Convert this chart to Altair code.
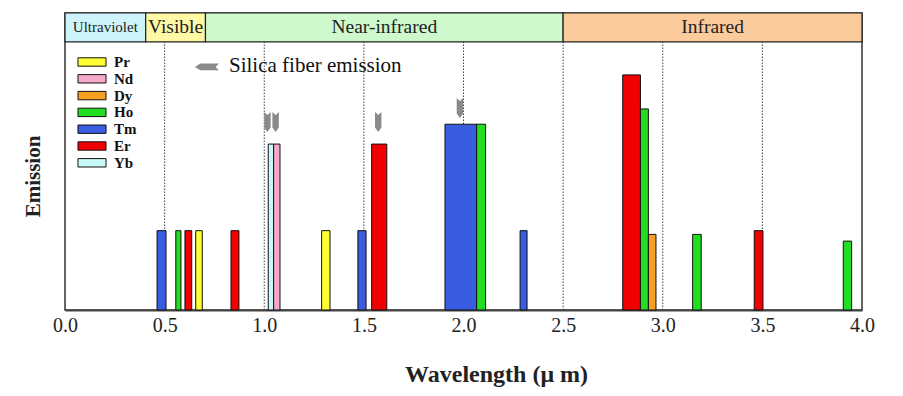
import altair as alt
import pandas as pd

# ---------------- data ----------------
elements = ["Pr", "Nd", "Dy", "Ho", "Tm", "Er", "Yb"]
element_colors = ["#ffff33", "#f5a8c8", "#f5a020", "#22dd22", "#3a5ce0", "#f00000", "#c8f8f8"]

bar_element = ["Tm", "Ho", "Er", "Pr", "Er", "Yb", "Nd", "Pr", "Tm", "Er",
               "Tm", "Ho", "Tm", "Er", "Ho", "Dy", "Ho", "Er", "Ho"]
bar_start = [0.462, 0.556, 0.602, 0.656, 0.833, 1.020, 1.047, 1.288, 1.470, 1.539,
             1.907, 2.066, 2.284, 2.799, 2.888, 2.928, 3.150, 3.459, 3.906]
bar_end = [0.507, 0.582, 0.636, 0.689, 0.873, 1.047, 1.079, 1.330, 1.511, 1.615,
           2.066, 2.111, 2.319, 2.888, 2.928, 2.966, 3.193, 3.503, 3.948]
bar_emission = [0.296, 0.296, 0.296, 0.296, 0.296, 0.619, 0.619, 0.296, 0.296, 0.619,
                0.693, 0.693, 0.296, 0.877, 0.750, 0.282, 0.282, 0.296, 0.257]

region_names = ["Ultraviolet", "Visible", "Near-infrared", "Infrared"]
region_start = [0.0, 0.405, 0.705, 2.5]
region_end = [0.405, 0.705, 2.5, 4.0]
region_colors = ["#cdf4fa", "#fff9a6", "#cdf9cd", "#fccb9c"]

silica_wavelength = [1.016, 1.057, 1.572, 1.982]
silica_tip = [0.664, 0.664, 0.664, 0.716]

grid_wavelength = [0.5, 1.0, 1.5, 2.0, 2.5, 3.0, 3.5]
tick_values = [0.0, 0.5, 1.0, 1.5, 2.0, 2.5, 3.0, 3.5, 4.0]

note_text = ["Silica fiber emission"]
note_arrow_x = [0.652]
note_arrow_y = [0.907]
note_text_x = [0.823]
note_text_y = [0.910]

BAND_LO = 1.0
BAND_HI = 1.108
SERIF = "Liberation Serif"

bars = pd.DataFrame({"element": bar_element, "start": bar_start,
                     "end": bar_end, "emission": bar_emission})
regions = pd.DataFrame({"region": region_names, "start": region_start, "end": region_end})
regions["mid"] = (regions["start"] + regions["end"]) / 2
regions["fs"] = [15, 19.5, 19.5, 19.5]
silica = pd.DataFrame({"w": silica_wavelength, "tip": silica_tip})
grid = pd.DataFrame({"w": grid_wavelength})
note = pd.DataFrame({"text": note_text, "ax": note_arrow_x, "ay": note_arrow_y,
                     "tx": note_text_x, "ty": note_text_y})

# ---------------- scales / axes ----------------
xscale = alt.Scale(domain=[0, 4], nice=False, zero=False)
yscale = alt.Scale(domain=[0, BAND_HI], nice=False, zero=False)

xaxis = alt.Axis(title="Wavelength (\u03bc m)", values=tick_values, format=".1f",
                 ticks=False, grid=False, domainColor="#444", domainWidth=2,
                 labelFont=SERIF, labelFontSize=20, labelColor="#222",
                 labelPadding=5, labelFlush=False,
                 titleFont=SERIF, titleFontSize=24, titleFontWeight="bold",
                 titleColor="#222", titlePadding=27, titleX=431)
yaxis = alt.Axis(title="Emission", labels=False, ticks=False, domain=False, grid=False,
                 titleFont=SERIF, titleFontSize=21, titleFontWeight="bold",
                 titleColor="#222", titleX=-32, titleY=163, titleAngle=270,
                 titleAlign="center", titleBaseline="middle")


def X(field):
    return alt.X(field, type="quantitative", scale=xscale, axis=xaxis)


def Y(field):
    return alt.Y(field, type="quantitative", scale=yscale, axis=yaxis)


down_arrow = "M0,0 L-0.32,-0.45 L-0.32,-2 L0,-1.7 L0.32,-2 L0.32,-0.45 Z"
left_arrow = "M0,0 L0.5,-0.32 L2.2,-0.32 L1.9,0 L2.2,0.32 L0.5,0.32 Z"
legend_rect = "M-1.87,-0.56 H1.87 V0.56 H-1.87 Z"

grid_layer = alt.Chart(grid).mark_rule(color="#444", strokeWidth=1, strokeDash=[1.5, 1.5]).encode(
    x=X("w"), y=alt.datum(0), y2=alt.datum(BAND_LO))

bar_layer = alt.Chart(bars).mark_rect(stroke="#111", strokeWidth=1).encode(
    x=X("start"), x2="end", y=Y("emission"), y2=alt.datum(0),
    fill=alt.Fill("element:N", scale=alt.Scale(domain=elements, range=element_colors),
                  legend=alt.Legend(title=None, orient="none", legendX=19, legendY=41,
                                    symbolType=legend_rect, symbolSize=225,
                                    symbolStrokeColor="#111", symbolStrokeWidth=1,
                                    symbolOpacity=1,
                                    labelFont=SERIF, labelFontSize=15, labelFontWeight="bold",
                                    labelColor="#111", labelOffset=14, rowPadding=0.8,
                                    padding=0)))

arrow_layer = alt.Chart(silica).mark_point(shape=down_arrow, size=400, filled=True,
                                           fill="#8a8a8a", opacity=1, strokeWidth=0).encode(
    x=X("w"), y=Y("tip"))

band_layer = alt.Chart(regions).mark_rect(stroke="#222", strokeWidth=1.2).encode(
    x=X("start"), x2="end", y=alt.datum(BAND_LO), y2=alt.datum(BAND_HI),
    color=alt.Color("region:N", scale=alt.Scale(domain=region_names, range=region_colors),
                    legend=None))

band_text = alt.Chart(regions).transform_calculate(ymid=str((BAND_LO + BAND_HI) / 2)).mark_text(
    font=SERIF, color="#222", baseline="middle", align="center").encode(
    x=X("mid"), y=Y("ymid:Q"), text="region:N",
    size=alt.Size("fs:Q", scale=None, legend=None))

note_arrow = alt.Chart(note).mark_point(shape=left_arrow, size=476, filled=True,
                                        fill="#8a8a8a", opacity=1, strokeWidth=0).encode(
    x=X("ax"), y=Y("ay"))
note_label = alt.Chart(note).mark_text(font=SERIF, fontSize=21, color="#111",
                                       align="left", baseline="middle").encode(
    x=X("tx"), y=Y("ty"), text="text:N")

chart = alt.layer(grid_layer, bar_layer, arrow_layer, band_layer, band_text,
                  note_arrow, note_label).properties(
    width=797, height=297,
    padding={"left": 57, "top": 5, "right": 20, "bottom": 78},
    autosize=alt.AutoSizeParams(type="none"),
    background="white",
).configure(font=SERIF).configure_view(stroke="#333", strokeWidth=1.5)

chart.save("out.html", embed_options={"renderer": "svg", "actions": False})
